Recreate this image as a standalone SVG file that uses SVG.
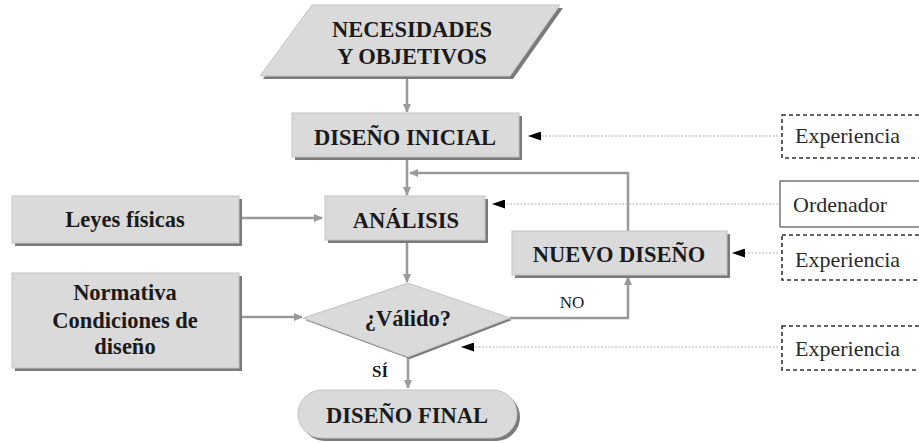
<svg xmlns="http://www.w3.org/2000/svg" width="919" height="443" viewBox="0 0 919 443">
<style>
.box{fill:#dadada;stroke:#c4c4c4;stroke-width:1}
.sh{fill:#7a7a7a}
.t{font-family:"Liberation Serif","Times New Roman",serif;font-weight:bold;font-size:22.5px;fill:#1a1a1a;text-anchor:middle}
.r{font-family:"Liberation Serif","Times New Roman",serif;font-size:22px;fill:#2a2a2a}
.s{font-family:"Liberation Serif","Times New Roman",serif;font-weight:bold;font-size:17px;fill:#1a1a1a;text-anchor:middle}
.n{font-family:"Liberation Serif","Times New Roman",serif;font-size:17px;fill:#1a1a1a;text-anchor:middle}
.c{fill:none;stroke:#9a9a9a;stroke-width:2.5}
.d{fill:none;stroke:#b0b0b0;stroke-width:1;stroke-dasharray:2,1.5}
.ext{fill:#fff;stroke:#333;stroke-width:1.6;stroke-dasharray:4,3}
.ext2{fill:#fff;stroke:#555;stroke-width:1.2}
</style>
<defs>
<marker id="ga" markerUnits="userSpaceOnUse" markerWidth="9" markerHeight="8" refX="8" refY="4" orient="auto">
<path d="M0,0 L9,4 L0,8 z" fill="#9a9a9a"/>
</marker>
<marker id="ba" markerUnits="userSpaceOnUse" markerWidth="13" markerHeight="9" refX="12" refY="4.5" orient="auto">
<path d="M0,0 L13,4.5 L0,9 z" fill="#000"/>
</marker>
</defs>
<rect width="919" height="443" fill="#fff"/>

<g id="connectors">
<line class="c" x1="407" y1="78" x2="407" y2="112" marker-end="url(#ga)"/>
<line class="c" x1="407" y1="159" x2="407" y2="195" marker-end="url(#ga)"/>
<polyline class="c" points="628,231 628,173 410,173" marker-end="url(#ga)"/>
<line class="c" x1="242" y1="218" x2="322" y2="218" marker-end="url(#ga)"/>
<line class="c" x1="407" y1="242" x2="407" y2="282" marker-end="url(#ga)"/>
<line class="c" x1="242" y1="317" x2="302" y2="317" marker-end="url(#ga)"/>
<polyline class="c" points="510,318 628,318 628,277" marker-end="url(#ga)"/>
<line class="c" x1="408" y1="357" x2="408" y2="388" marker-end="url(#ga)"/>
<line class="d" x1="778" y1="136" x2="529" y2="136" marker-end="url(#ba)"/>
<line class="d" x1="778" y1="204" x2="493" y2="204" marker-end="url(#ba)"/>
<line class="d" x1="778" y1="253" x2="733" y2="253" marker-end="url(#ba)"/>
<line class="d" x1="778" y1="347" x2="462" y2="347" marker-end="url(#ba)"/>
</g>

<g id="necesidades">
<polygon class="sh" points="315,8 563,8 513,79 263,79"/>
<polygon class="box" points="312,5 560,5 510,76 260,76"/>
<text class="t" x="412" y="37">NECESIDADES</text>
<text class="t" x="412" y="64">Y OBJETIVOS</text>
</g>

<g id="diseno-inicial">
<rect class="sh" x="295" y="116" width="227" height="44"/>
<rect class="box" x="292" y="113" width="227" height="44"/>
<text class="t" x="405" y="145">DISEÑO INICIAL</text>
</g>

<g id="leyes">
<rect class="sh" x="15" y="199" width="227" height="47"/>
<rect class="box" x="12" y="196" width="227" height="47"/>
<text class="t" x="125" y="227">Leyes físicas</text>
</g>

<g id="analisis">
<rect class="sh" x="328" y="199" width="160" height="44"/>
<rect class="box" x="325" y="196" width="160" height="44"/>
<text class="t" x="406" y="228">ANÁLISIS</text>
</g>

<g id="nuevo-diseno">
<rect class="sh" x="515" y="234" width="215" height="44"/>
<rect class="box" x="512" y="231" width="215" height="44"/>
<text class="t" x="619" y="262">NUEVO DISEÑO</text>
</g>

<g id="normativa">
<rect class="sh" x="15" y="276" width="227" height="95"/>
<rect class="box" x="12" y="273" width="227" height="95"/>
<text class="t" x="125" y="300">Normativa</text>
<text class="t" x="125" y="328">Condiciones de</text>
<text class="t" x="125" y="354">diseño</text>
</g>

<g id="valido">
<polygon class="sh" points="305,320 410,285 512,320 410,359"/>
<polygon class="box" points="303,318 408,283 510,318 408,357"/>
<text class="t" x="408" y="326">¿Válido?</text>
<text class="n" x="572" y="308">NO</text>
<text class="s" x="380" y="377">SÍ</text>
</g>

<g id="diseno-final">
<rect class="sh" x="301" y="393" width="219" height="48" rx="24"/>
<rect class="box" x="298" y="390" width="219" height="48" rx="24"/>
<text class="t" x="407" y="423">DISEÑO FINAL</text>
</g>

<g id="experiencia1">
<rect class="ext" x="782" y="115" width="150" height="43"/>
<text class="r" x="795" y="143">Experiencia</text>
</g>
<g id="ordenador">
<rect class="ext2" x="780" y="181" width="150" height="46"/>
<text class="r" x="793" y="212">Ordenador</text>
</g>
<g id="experiencia2">
<rect class="ext" x="782" y="235" width="150" height="45"/>
<text class="r" x="795" y="267">Experiencia</text>
</g>
<g id="experiencia3">
<rect class="ext" x="782" y="326" width="150" height="44"/>
<text class="r" x="795" y="356">Experiencia</text>
</g>
</svg>
